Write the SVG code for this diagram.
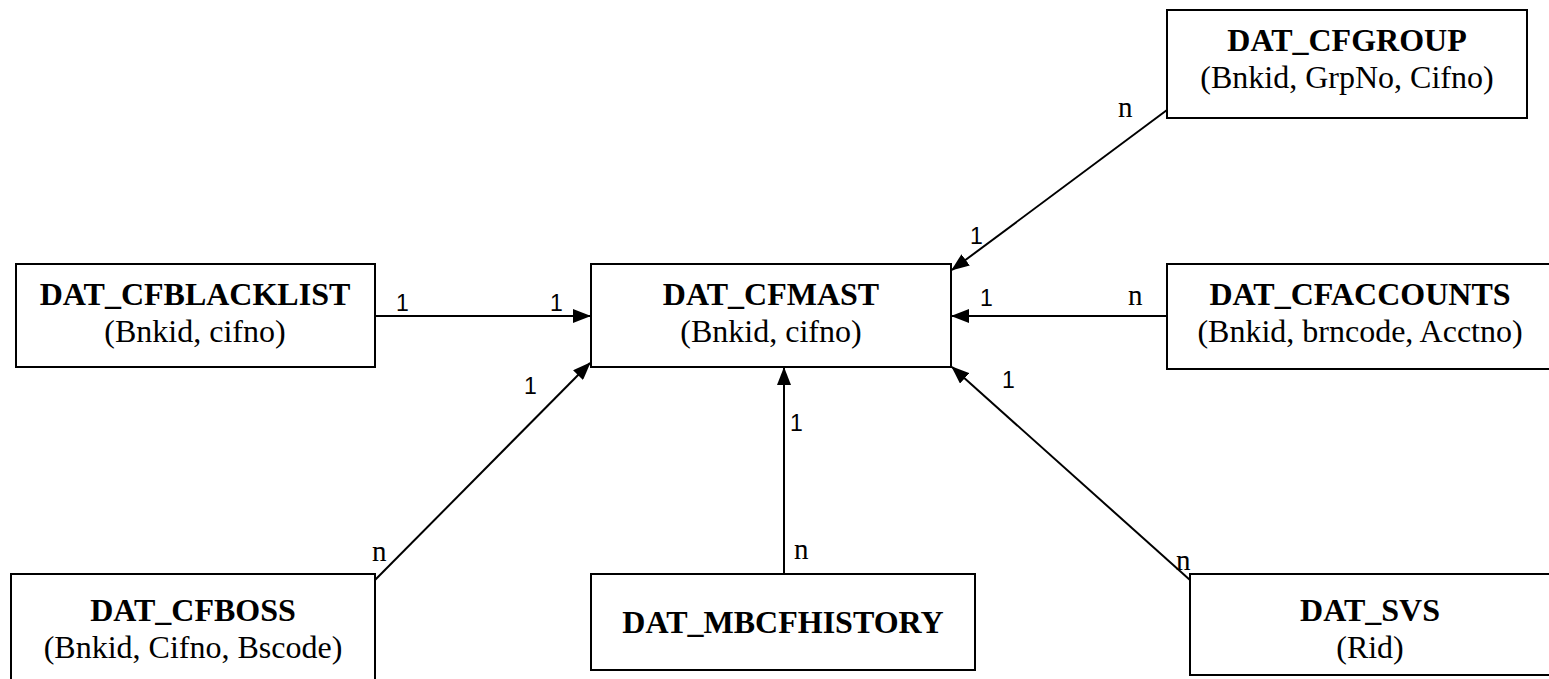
<svg xmlns="http://www.w3.org/2000/svg" width="1549" height="679" viewBox="0 0 1549 679">
<style>
.box{fill:#fff;stroke:#000;stroke-width:2}
.t{font-family:"Liberation Serif","Times New Roman",serif;font-weight:bold;font-size:32px;text-anchor:middle;fill:#000}
.s{font-family:"Liberation Serif","Times New Roman",serif;font-size:32px;text-anchor:middle;fill:#000}
.c{stroke:#000;stroke-width:2;fill:none}
.one{font-family:"Liberation Sans",Arial,sans-serif;font-size:23px;fill:#000}
.n{font-family:"Liberation Serif","Times New Roman",serif;font-size:29px;fill:#000}
</style>
<defs>
<marker id="arr" markerWidth="9" markerHeight="7" refX="8.5" refY="3.5" orient="auto" markerUnits="strokeWidth">
<path d="M0,0 L9,3.5 L0,7 Z" fill="#000"/>
</marker>
</defs>
<rect width="1549" height="679" fill="#fff"/>
<g id="connectors">
<line class="c" x1="375" y1="316" x2="590" y2="316" marker-end="url(#arr)"/>
<line class="c" x1="1167" y1="110" x2="952" y2="270" marker-end="url(#arr)"/>
<line class="c" x1="1167" y1="316" x2="952" y2="316" marker-end="url(#arr)"/>
<line class="c" x1="375" y1="580" x2="590" y2="363" marker-end="url(#arr)"/>
<line class="c" x1="784" y1="574" x2="784" y2="368" marker-end="url(#arr)"/>
<line class="c" x1="1190" y1="580" x2="952" y2="367" marker-end="url(#arr)"/>
<text class="one" x="396" y="311">1</text>
<text class="one" x="550" y="311">1</text>
<text class="n" x="1118" y="117">n</text>
<text class="one" x="970" y="244">1</text>
<text class="one" x="980" y="306">1</text>
<text class="n" x="1128" y="305">n</text>
<text class="n" x="372" y="561">n</text>
<text class="one" x="524" y="394">1</text>
<text class="one" x="790" y="431">1</text>
<text class="n" x="794" y="559">n</text>
<text class="n" x="1176" y="570">n</text>
<text class="one" x="1002" y="388">1</text>
</g>
<g id="cfgroup">
<rect class="box" x="1167" y="10" width="360" height="108"/>
<text class="t" x="1347" y="51">DAT_CFGROUP</text>
<text class="s" x="1347" y="88">(Bnkid, GrpNo, Cifno)</text>
</g>
<g id="cfblacklist">
<rect class="box" x="16" y="264" width="359" height="103"/>
<text class="t" x="195" y="305">DAT_CFBLACKLIST</text>
<text class="s" x="195" y="342">(Bnkid, cifno)</text>
</g>
<g id="cfmast">
<rect class="box" x="591" y="264" width="360" height="103"/>
<text class="t" x="771" y="305">DAT_CFMAST</text>
<text class="s" x="771" y="342">(Bnkid, cifno)</text>
</g>
<g id="cfaccounts">
<rect class="box" x="1167" y="264" width="390" height="105"/>
<text class="t" x="1360" y="305">DAT_CFACCOUNTS</text>
<text class="s" x="1360" y="342">(Bnkid, brncode, Acctno)</text>
</g>
<g id="cfboss">
<rect class="box" x="11" y="574" width="364" height="115"/>
<text class="t" x="193" y="621">DAT_CFBOSS</text>
<text class="s" x="193" y="658">(Bnkid, Cifno, Bscode)</text>
</g>
<g id="mbcfhistory">
<rect class="box" x="591" y="574" width="384" height="96"/>
<text class="t" x="783" y="633">DAT_MBCFHISTORY</text>
</g>
<g id="svs">
<rect class="box" x="1190" y="574" width="370" height="101"/>
<text class="t" x="1370" y="621">DAT_SVS</text>
<text class="s" x="1370" y="658">(Rid)</text>
</g>
</svg>
